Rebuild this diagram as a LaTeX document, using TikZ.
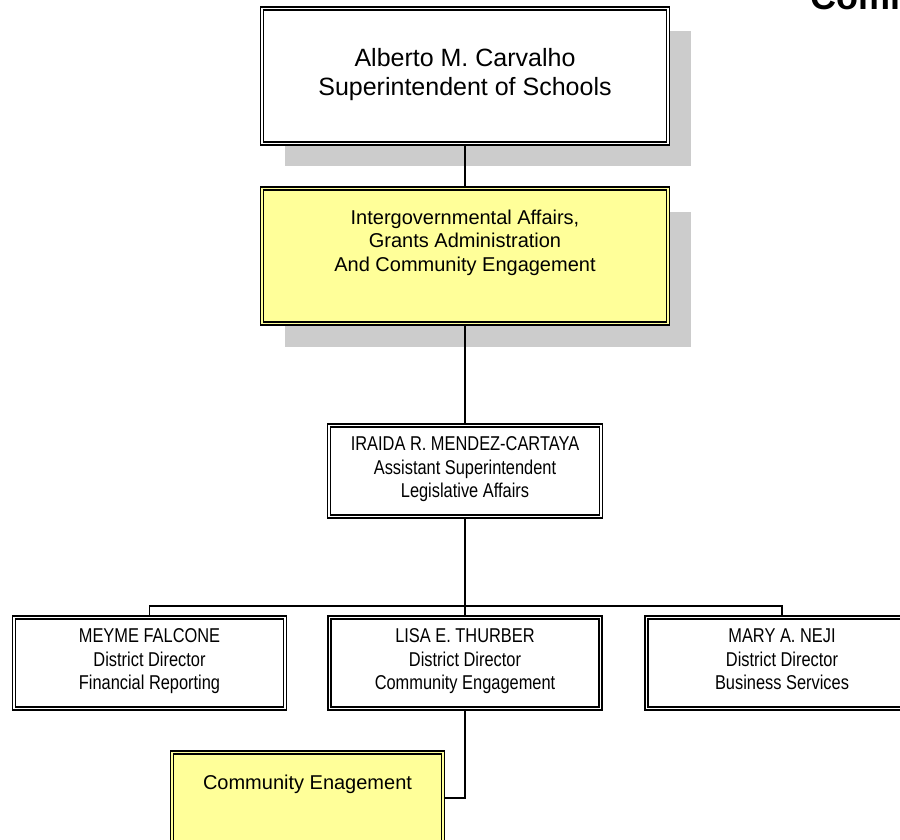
\documentclass[tikz,border=0pt]{standalone}
\usepackage{fontspec}
\setmainfont{Liberation Sans}
\newfontfamily\narrowfont[FakeStretch=0.82]{Liberation Sans}
\usetikzlibrary{shadows}
\definecolor{paleyellow}{HTML}{FFFF99}
\definecolor{shadowgray}{HTML}{CCCCCC}
\begin{document}
\begin{tikzpicture}[x=1pt,y=-1pt,
    box/.style={draw,line width=1.2pt,double=white,double distance=1.7pt,fill=white,
        inner sep=0pt,align=center,minimum width=271pt,minimum height=91pt,
        font=\narrowfont\fontsize{20}{23.5}\selectfont,execute at end node=\strut},
    bigbox/.style={box,minimum width=406pt,minimum height=135pt,
        drop shadow={shadow xshift=23pt,shadow yshift=-23pt,fill=shadowgray,opacity=1}},
    yellowbox/.style={fill=paleyellow,double=paleyellow,font=\fontsize{20}{23.5}\selectfont},
    link/.style={line width=1.3pt}]
\useasboundingbox (0,0) rectangle (900,840);
\clip (0,0) rectangle (900,840);
\node[anchor=base west,inner sep=0pt,font=\bfseries\fontsize{36}{40}\selectfont] (title) at (810,10) {Community};

\node[bigbox,font=\fontsize{25}{28.5}\selectfont] (super) at (465,76)
    {Alberto M. Carvalho\\Superintendent of Schools};
\node[bigbox,yellowbox] (affairs) at (465,256)
    {Intergovernmental Affairs,\\Grants Administration\\And Community Engagement\\};
\node[box,minimum width=272pt] (iraida) at (465,471)
    {IRAIDA R. MENDEZ-CARTAYA\\Assistant Superintendent\\Legislative Affairs};

\node[box] (meyme) at (149.5,663) {MEYME FALCONE\\District Director\\Financial Reporting};
\node[box] (lisa) at (465,663) {LISA E. THURBER\\District Director\\Community Engagement};
\node[box] (mary) at (782,663) {MARY A. NEJI\\District Director\\Business Services};
\node[box,yellowbox] (commeng) at (307.5,798) {Community Enagement\\};

\draw[link] (super) -- (affairs);
\draw[link] (affairs) -- (iraida);
\coordinate (bus) at (465,606);
\draw[link] (iraida) -- (bus);
\foreach \c in {meyme,lisa,mary}
{
    \draw[link] (bus) -| (\c.north);
}
\draw[link] (lisa) |- (commeng.east);
\end{tikzpicture}
\end{document}
